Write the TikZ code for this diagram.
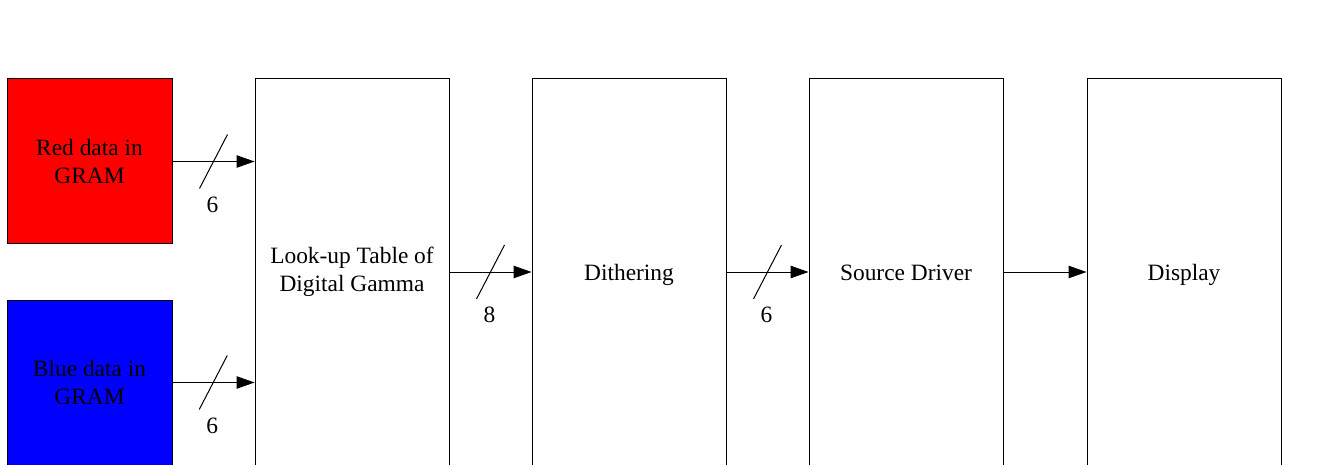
\documentclass[tikz,border=0pt]{standalone}
\usepackage{fontspec}
\setmainfont{Liberation Serif}
\usetikzlibrary{arrows.meta,calc}
\tikzset{
  blk/.style={draw=black, line width=1pt, inner sep=0pt, align=center, font=\fontsize{23.4}{28}\selectfont},
  arr/.style={line width=1pt, -{Triangle[length=18pt,width=12.5pt]}},
  bus/.style={line width=1pt},
  num/.style={font=\fontsize{23.4}{28}\selectfont, inner sep=0pt},
  lbl/.style={font=\fontsize{23.4}{28}\selectfont, inner sep=0pt, anchor=base},
}
\begin{document}
\begin{tikzpicture}[x=1pt,y=-1pt]
\useasboundingbox (0,0) rectangle (1320,465);
\clip (0,0) rectangle (1320,465);
\node[blk, fill=red, minimum width=165pt, minimum height=165pt] (red) at (89.5,161.5) {Red data in\\GRAM};
\node[blk, fill=blue, minimum width=165pt, minimum height=170pt] (blue) at (89.5,385) {};
\node[font=\fontsize{23.4}{28}\selectfont, align=center] (bluet) at (89.5,382.5) {Blue data in\\GRAM};
\node[blk, minimum width=194pt, minimum height=392pt] (lut) at (352,275) {};
\node[font=\fontsize{23.4}{28}\selectfont, align=center] (lutt) at (352,272) {Look-up Table of\\Digital Gamma};
\node[blk, minimum width=194pt, minimum height=392pt] (dith) at (629,275) {};
\node[lbl] (ditht) at (629,280) {Dithering};
\node[blk, minimum width=194pt, minimum height=392pt] (src) at (906,275) {};
\node[lbl] (srct) at (906,280) {Source Driver};
\node[blk, minimum width=194pt, minimum height=392pt] (disp) at (1184,275) {};
\node[lbl] (dispt) at (1184,280) {Display};
% connectors
\coordinate (r1) at (red.east);
\coordinate (r2) at (red.east -| lut.west);
\draw[arr] (r1) -- (r2);
\coordinate (b1) at (172,382.5);
\coordinate (b2) at (b1 -| lut.west);
\draw[arr] (b1) -- (b2);
\coordinate (l1) at (lut.east |- lutt);
\coordinate (d1) at (dith.west |- lutt);
\draw[arr] (l1) -- (d1);
\coordinate (d2) at (dith.east |- lutt);
\coordinate (s1) at (src.west |- lutt);
\draw[arr] (d2) -- (s1);
\coordinate (s2) at (src.east |- lutt);
\coordinate (p1) at (disp.west |- lutt);
\draw[arr] (s2) -- (p1);
% bus slashes and widths
\foreach \a/\b/\n/\lab in {r1/r2/6/ra, b1/b2/6/ba, l1/d1/8/la, d2/s1/6/da}{
  \coordinate (m) at ($(\a)!0.5!(\b)$);
  \draw[bus] ($(m)+(-14,27)$) -- ($(m)+(14,-27)$);
  \node[num] (\lab) at ($(m)+(-1,43)$) {\n};
}
\end{tikzpicture}
\end{document}
